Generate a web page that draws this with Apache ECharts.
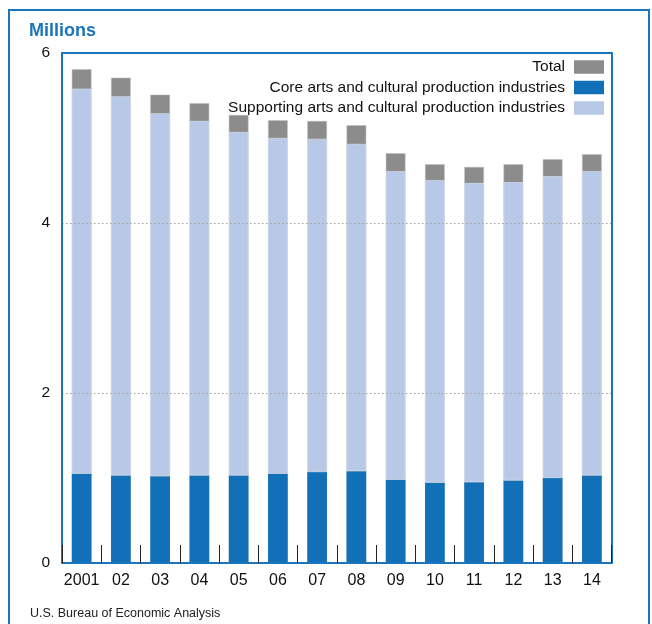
<!DOCTYPE html>
<html>
<head>
<meta charset="utf-8">
<script src="https://cdn.jsdelivr.net/npm/echarts@6/dist/echarts.min.js"></script>
<style>
html,body{margin:0;padding:0;background:#fff;}
#chart{width:652px;height:624px;}
</style>
</head>
<body>
<div id="chart"></div>
<script>
var years = ['2001','02','03','04','05','06','07','08','09','10','11','12','13','14'];
var totalValues = [5.81, 5.71, 5.51, 5.41, 5.27, 5.21, 5.20, 5.15, 4.82, 4.69, 4.66, 4.69, 4.75, 4.81];
var coreValues = [1.05, 1.03, 1.02, 1.03, 1.03, 1.05, 1.07, 1.08, 0.98, 0.945, 0.95, 0.97, 1.00, 1.03];
var supportingValues = [4.53, 4.46, 4.27, 4.17, 4.04, 3.95, 3.92, 3.85, 3.63, 3.56, 3.52, 3.51, 3.55, 3.58];
var yTicks = [0, 2, 4, 6];

var BLUE = '#1a75bc';
var chart = echarts.init(document.getElementById('chart'), null, {renderer: 'canvas'});
var option = {
  animation: false,
  backgroundColor: '#fff',
  textStyle: {fontFamily: 'Liberation Sans, Arial, sans-serif'},
  graphic: [
    {type: 'rect', shape: {x: 9, y: 10, width: 640, height: 640}, style: {fill: 'none', stroke: BLUE, lineWidth: 2}, z: 0},
    {type: 'text', left: 29, top: 22, style: {text: 'Millions', fill: BLUE, font: 'bold 18px Liberation Sans, Arial, sans-serif'}},
    {type: 'text', left: 30, top: 607, style: {text: 'U.S. Bureau of Economic Analysis', fill: '#222', font: '12.5px Liberation Sans, Arial, sans-serif'}}
  ],
  legend: {
    orient: 'vertical',
    right: 48,
    top: 59,
    padding: 0,
    align: 'right',
    itemWidth: 30,
    itemHeight: 13.5,
    itemGap: 4.5,
    icon: 'rect',
    itemStyle: {borderWidth: 0},
    textStyle: {fontSize: 15.5, color: '#111', padding: [2, 4, 0, 0]},
    data: ['Total', 'Core arts and cultural production industries', 'Supporting arts and cultural production industries']
  },
  grid: {left: 62, right: 40.5, top: 53, bottom: 61, containLabel: false},
  xAxis: [
    {
      type: 'category',
      data: years,
      boundaryGap: true,
      z: 10,
      axisLine: {show: true, onZero: false, lineStyle: {color: BLUE, width: 2}},
      axisTick: {show: true, inside: true, length: 18, interval: 0, lineStyle: {color: '#222', width: 1}},
      axisLabel: {fontSize: 16, color: '#111', margin: 10, interval: 0}
    },
    {
      type: 'category',
      data: years,
      position: 'top',
      z: 10,
      axisLine: {show: true, onZero: false, lineStyle: {color: BLUE, width: 2}},
      axisTick: {show: false},
      axisLabel: {show: false}
    }
  ],
  yAxis: [
    {
      type: 'value',
      min: yTicks[0],
      max: yTicks[yTicks.length - 1],
      interval: 2,
      z: 10,
      axisLine: {show: true, onZero: false, lineStyle: {color: BLUE, width: 2}},
      axisTick: {show: false},
      axisLabel: {fontSize: 15.5, color: '#111', margin: 12},
      splitLine: {show: true, lineStyle: {color: '#a0a0a0', type: [1.5, 2.5], width: 1}}
    },
    {
      type: 'value',
      min: yTicks[0],
      max: yTicks[yTicks.length - 1],
      interval: 2,
      position: 'right',
      z: 10,
      axisLine: {show: true, onZero: false, lineStyle: {color: BLUE, width: 2}},
      axisTick: {show: false},
      axisLabel: {show: false},
      splitLine: {show: false}
    }
  ],
  series: [
    {
      name: 'Total',
      type: 'bar',
      data: totalValues,
      barWidth: '50%',
      barGap: '-100%',
      itemStyle: {color: '#8c8c8c', borderColor: '#bdbdbd', borderWidth: 0.5}
    },
    {
      name: 'Core arts and cultural production industries',
      type: 'bar',
      stack: 'arts',
      data: coreValues,
      barWidth: '50%',
      itemStyle: {color: '#1170b8'}
    },
    {
      name: 'Supporting arts and cultural production industries',
      type: 'bar',
      stack: 'arts',
      data: supportingValues,
      barWidth: '50%',
      itemStyle: {color: '#b7c9e6', borderColor: '#dde5f3', borderWidth: 0.6}
    }
  ]
};
chart.setOption(option);
</script>
</body>
</html>
